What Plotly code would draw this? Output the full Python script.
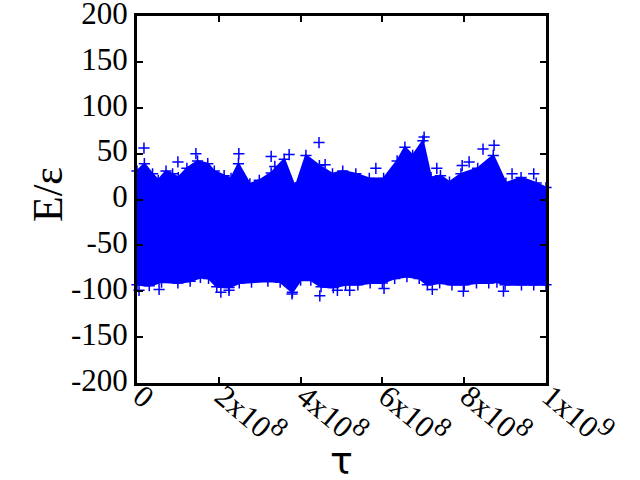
import plotly.graph_objects as go

TAU_UNIT = 1e8

# upper edge of the dense point cloud (tau in units of 1e8, E/eps)
upper_tau = [0.0, 0.18, 0.38, 0.52, 0.71, 0.87, 1.01, 1.22, 1.48, 1.73, 1.89, 2.13, 2.30, 2.48,
             2.76, 2.99, 3.28, 3.60, 3.87, 4.13, 4.46, 4.78, 5.03, 5.35, 5.68, 6.03, 6.36,
             6.55, 6.74, 6.99, 7.19, 7.42, 7.64, 7.92, 8.33, 8.71, 9.02, 9.39, 9.76, 10.0]
upper_E = [31, 39, 28, 21, 31, 28, 24, 34, 42, 39, 31, 26, 23, 39,
           17, 21, 29, 44, 13, 48, 37, 28, 31, 28, 23, 23, 42,
           57, 48, 64, 24, 26, 19, 28, 34, 48, 18, 24, 18, 13]

# lower edge of the dense point cloud
lower_tau = [0.0, 0.3, 0.6, 1.0, 1.3, 1.55, 1.75, 1.95, 2.25, 2.5, 2.8, 3.2, 3.5, 3.8, 4.0,
             4.25, 4.5, 4.8, 5.1, 5.4, 5.7, 6.0, 6.3, 6.6, 6.9, 7.1, 7.4, 7.7, 8.0, 8.3,
             8.6, 8.8, 9.0, 9.4, 9.7, 10.0]
lower_E = [-93, -94, -90, -91, -89, -85, -86, -95, -96, -91, -90, -89, -90, -101, -88,
           -88, -95, -96, -93, -93, -91, -91, -86, -84, -86, -93, -91, -93, -93, -91,
           -91, -90, -93, -93, -93, -93]

# isolated points outside the dense band
out_tau = [0.17, 1.0, 1.44, 2.49, 3.28, 3.37, 3.72, 4.45, 4.6, 5.84, 7.02, 7.33, 8.73, 8.46,
           8.12, 7.95, 9.17, 9.7, 3.79, 4.47, 4.9, 5.2, 6.04, 7.22, 7.98, 8.96, 0.54, 2.05,
           2.25, 0.05]
out_E = [56, 41, 50, 50, 47, 36, 49, 62, 38, 34, 68, 34, 59, 55,
         41, 37, 28, 28, -103, -105, -99, -99, -97, -98, -100, -100, -98, -101,
         -99, -99]

x_tickvals = [0, 2, 4, 6, 8, 10]
x_mant = ["0", "2x10", "4x10", "6x10", "8x10", "1x10"]
x_exp = ["", "8", "8", "8", "8", "9"]
y_tickvals = [-200, -150, -100, -50, 0, 50, 100, 150, 200]
y_ticktext = ["-200", "-150", "-100", "-50", "0", "50", "100", "150", "200"]

BLUE = "rgb(0,0,255)"
SERIF = "Liberation Serif, Times New Roman, serif"
FS = 31

x_ticktext = [m + (f"<sup><span style='font-size:{FS - 4}px'>{e}</span></sup>" if e else "")
              for m, e in zip(x_mant, x_exp)]

band_x = [t * TAU_UNIT for t in upper_tau] + [t * TAU_UNIT for t in lower_tau[::-1]]
band_y = upper_E + lower_E[::-1]

fig = go.Figure()
fig.add_trace(go.Scatter(x=band_x, y=band_y, mode="lines", fill="toself",
                         fillcolor=BLUE, line=dict(color=BLUE, width=2),
                         hoverinfo="skip", showlegend=False))
cross = dict(symbol="cross-thin", size=8, line=dict(color=BLUE, width=1.5), color=BLUE)
fig.add_trace(go.Scatter(x=[t * TAU_UNIT for t in upper_tau + lower_tau],
                         y=upper_E + lower_E, mode="markers", marker=cross,
                         showlegend=False, cliponaxis=False))
fig.add_trace(go.Scatter(x=[t * TAU_UNIT for t in out_tau], y=out_E, mode="markers",
                         marker=cross, showlegend=False, cliponaxis=False))

tick_font = dict(family=SERIF, size=FS, color="black")

L, R, T, B = 137, 94, 16, 97
PW, PH = 640 - L - R, 480 - T - B

fig.update_layout(
    width=640, height=480,
    margin=dict(l=L, r=R, t=T, b=B, autoexpand=False),
    paper_bgcolor="white", plot_bgcolor="white",
    font=tick_font,
    xaxis=dict(range=[0, 1e9], tickvals=[v * TAU_UNIT for v in x_tickvals],
               ticktext=x_ticktext, tickangle=40, ticks="inside", ticklen=6,
               ticklabelstandoff=-20, ticklabelshift=4,
               tickwidth=2, tickcolor="black", showline=True, linewidth=3,
               linecolor="black", mirror="ticks", showgrid=False, zeroline=False,
               tickfont=tick_font, automargin=False, ticklabeloverflow="allow"),
    yaxis=dict(range=[-200, 200], tickvals=y_tickvals, ticktext=y_ticktext,
               ticks="inside", ticklen=6, ticklabelshift=-3,
               tickwidth=2, tickcolor="black", showline=True, linewidth=3,
               linecolor="black", mirror="ticks", showgrid=False, zeroline=False,
               tickfont=tick_font, automargin=False, ticklabeloverflow="allow"),
    annotations=[
        dict(text="E/ε", xref="paper", yref="paper", x=(48 - L) / PW, y=(480 - B - 195) / PH,
             showarrow=False, textangle=-90, xanchor="center", yanchor="middle",
             font=dict(family=SERIF, size=42, color="black")),
        dict(text="τ", xref="paper", yref="paper", x=(341 - L) / PW, y=(480 - B - 461) / PH,
             showarrow=False, xanchor="center", yanchor="middle",
             font=dict(family="DejaVu Sans, sans-serif", size=38, color="black")),
    ],
)

fig.write_html("out.html", config={"displayModeBar": False},
               post_script="document.body.style.margin='0';")
